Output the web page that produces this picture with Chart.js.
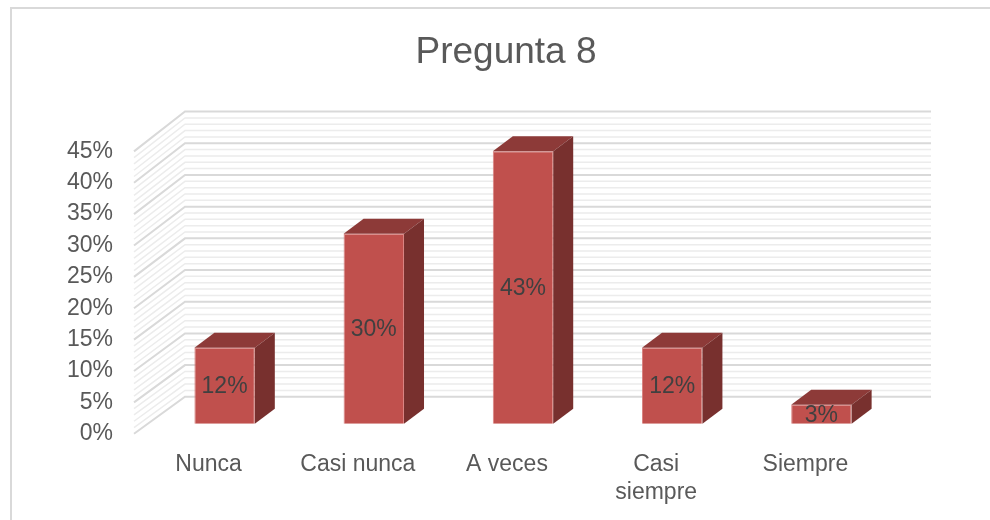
<!DOCTYPE html>
<html lang="es">
<head>
  <meta charset="UTF-8">
  <title>Pregunta 8</title>
  <script src="https://cdn.jsdelivr.net/npm/chart.js"></script>
  <style>
    body {
      margin: 0;
      background: #fff;
      overflow: hidden;
    }

    /* outer chart frame, runs off the right and bottom edges like the original */
    .frame {
      position: absolute;
      left: 10px;
      top: 7px;
      width: 1000px;
      height: 600px;
      border: 2px solid #d9d9d9;
      box-sizing: border-box;
    }

    .wrap {
      position: absolute;
      left: 0;
      top: 0;
      width: 990px;
      height: 520px;
    }
  </style>
</head>
<body>
  <div class="frame"></div>
  <div class="wrap"><canvas id="chart"></canvas></div>

  <script>
    // Data
    const categories = ['Nunca', 'Casi nunca', 'A veces', ['Casi', 'siempre'], 'Siempre'];
    const values = [12, 30, 43, 12, 3];
    const yMax = 45;
    const yStep = 5;

    // 3D look
    const wallDx = 51, wallDy = 37;     // depth of the side wall
    const barShiftX = 16, barLift = 10; // bars sit a bit back from the front plane
    const barScaleY = 1.01;
    const depthX = 20, depthY = -15;    // depth of each column
    const frontColor = '#C0504D';
    const topColor = '#8D3A38';
    const sideColor = '#78302E';

    Chart.defaults.font.family = "'Liberation Sans', Arial, sans-serif";

    const threeD = {
      id: 'threeD',
      beforeDatasetsDraw(chart) {
        const { ctx, chartArea, scales: { y } } = chart;
        const y0 = y.getPixelForValue(0);

        // walls: minor lines every 1%, major every 5%
        const drawLine = (v) => {
          const fy = y.getPixelForValue(v);
          const by = fy - wallDy - (y0 - fy) * 0.01;
          ctx.beginPath();
          ctx.moveTo(chartArea.left, fy);
          ctx.lineTo(chartArea.left + wallDx, by);
          ctx.lineTo(chartArea.right + wallDx, by);
          ctx.stroke();
        };
        ctx.save();
        ctx.strokeStyle = '#ececec';
        ctx.lineWidth = 1.5;
        for (let v = 0; v <= yMax; v++) {
          if (v % yStep !== 0) drawLine(v);
        }
        ctx.strokeStyle = '#d9d9d9';
        ctx.lineWidth = 2;
        for (let v = 0; v <= yMax; v += yStep) drawLine(v);
        ctx.restore();

        // move the bars into the middle of the depth
        ctx.save();
        ctx.translate(barShiftX, y0 - barLift);
        ctx.scale(1, barScaleY);
        ctx.translate(0, -y0);
      },
      afterDatasetsDraw(chart) {
        const { ctx, scales: { y } } = chart;
        const y0 = y.getPixelForValue(0);
        const meta = chart.getDatasetMeta(0);

        meta.data.forEach((el) => {
          const { x, y: top, base, width } = el.getProps(['x', 'y', 'base', 'width'], true);
          const l = x - width / 2, r = x + width / 2;
          const dy = depthY / barScaleY;

          ctx.fillStyle = topColor;
          ctx.beginPath();
          ctx.moveTo(l, top);
          ctx.lineTo(l + depthX, top + dy);
          ctx.lineTo(r + depthX, top + dy);
          ctx.lineTo(r, top);
          ctx.closePath();
          ctx.fill();

          ctx.fillStyle = sideColor;
          ctx.beginPath();
          ctx.moveTo(r, top);
          ctx.lineTo(r + depthX, top + dy);
          ctx.lineTo(r + depthX, base + dy);
          ctx.lineTo(r, base);
          ctx.closePath();
          ctx.fill();
        });
        ctx.restore();

        // data labels in the middle of the front face
        ctx.save();
        ctx.font = "23px 'Liberation Sans', Arial, sans-serif";
        ctx.fillStyle = '#404040';
        ctx.textAlign = 'center';
        ctx.textBaseline = 'middle';
        meta.data.forEach((el, i) => {
          const { x, y: top, base } = el.getProps(['x', 'y', 'base'], true);
          const mid = (top + base) / 2;
          const ty = y0 - barLift + (mid - y0) * barScaleY;
          ctx.fillText(values[i] + '%', x + barShiftX, ty + 1);
        });
        ctx.restore();
      }
    };

    new Chart(document.getElementById('chart'), {
      type: 'bar',
      data: {
        labels: categories,
        datasets: [{
          data: values,
          backgroundColor: frontColor,
          borderColor: 'rgba(214, 120, 117, 0.9)',
          borderWidth: 1,
          categoryPercentage: 1,
          barPercentage: 0.405,
          clip: false
        }]
      },
      options: {
        responsive: true,
        maintainAspectRatio: false,
        animation: false,
        layout: {
          padding: { left: 22, right: 0, top: 0, bottom: -3 }
        },
        plugins: {
          legend: { display: false },
          tooltip: { enabled: false },
          title: {
            display: true,
            text: 'Pregunta 8',
            color: '#595959',
            font: { size: 37, weight: 'normal' },
            padding: { top: 31, bottom: 76 }
          }
        },
        scales: {
          x: {
            grid: { display: false, drawTicks: false },
            border: { display: false },
            ticks: {
              color: '#595959',
              font: { size: 23, lineHeight: 1.2 },
              padding: 17,
              maxRotation: 0,
              autoSkip: false
            }
          },
          y: {
            min: 0,
            max: yMax,
            grid: { display: false, drawTicks: false },
            border: { display: false },
            ticks: {
              stepSize: yStep,
              autoSkip: false,
              color: '#595959',
              font: { size: 23 },
              padding: 21,
              callback: (v) => v + '%'
            },
            afterFit(scale) {
              scale.width = 112;
            }
          },
          // empty right axis, only keeps room for the back wall
          yr: {
            position: 'right',
            grid: { display: false, drawTicks: false },
            border: { display: false },
            ticks: { display: false },
            afterFit(scale) {
              scale.width = 110;
            }
          }
        }
      },
      plugins: [threeD]
    });
  </script>
</body>
</html>
